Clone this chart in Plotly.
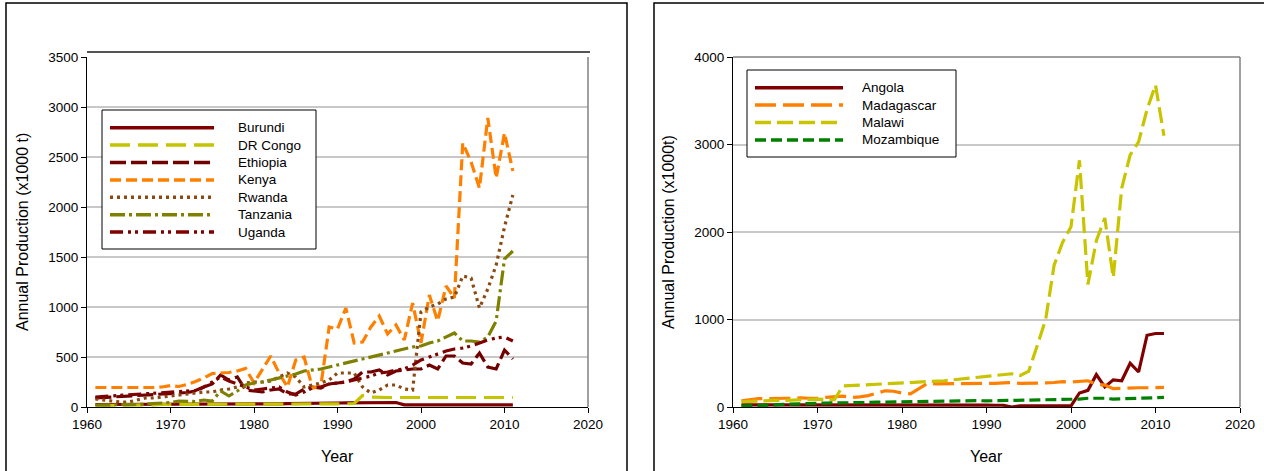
import plotly.graph_objects as go

years = list(range(1961, 2012))

# ---- East Africa (x1000 t) ----
burundi = [25, 25, 25, 25, 26, 27, 28, 28, 28, 28, 29, 29, 30, 30, 30, 30, 30, 30, 30, 30,
           31, 32, 32, 33, 33, 34, 35, 36, 38, 40, 42, 42, 45, 38, 40, 42, 45, 22, 22, 22,
           22, 22, 22, 22, 22, 22, 22, 24, 26, 24, 22]
dr_congo = [15, 15, 18, 18, 20, 20, 22, 22, 25, 25, 27, 27, 28, 28, 28, 28, 28, 27, 27, 27,
            27, 27, 28, 28, 28, 28, 29, 30, 30, 30, 32, 35, 115, 100, 95, 95, 95, 95, 95, 95,
            95, 95, 95, 95, 95, 95, 95, 95, 95, 95, 95]
ethiopia = [90, 95, 100, 110, 115, 120, 125, 130, 135, 140, 140, 145, 160, 200, 230, 320, 270, 300, 170, 160,
            150, 170, 180, 130, 130, 180, 200, 190, 230, 240, 250, 280, 350, 350, 370, 320, 360, 370, 380, 380,
            420, 380, 510, 510, 440, 430, 540, 400, 380, 570, 480]
kenya = [195, 195, 190, 190, 190, 195, 195, 195, 200, 215, 205, 225, 255, 290, 335, 340, 345, 360, 385, 240,
         380, 510, 340, 200, 470, 500, 190, 210, 800, 780, 990, 640, 650, 800, 910, 730, 820, 670, 1040, 640,
         1120, 860, 1210, 1090, 2640, 2450, 2190, 2890, 2290, 2740, 2360]
rwanda = [80, 70, 60, 50, 50, 70, 90, 90, 100, 110, 120, 130, 140, 150, 150, 170, 180, 200, 240, 250,
          250, 260, 300, 340, 300, 200, 220, 240, 270, 340, 340, 340, 200, 140, 170, 220, 220, 180, 170, 950,
          1000, 1030, 1080, 1100, 1310, 1290, 990, 1180, 1420, 1800, 2120]
tanzania = [20, 20, 20, 22, 22, 25, 30, 35, 40, 45, 60, 55, 55, 70, 60, 160, 110, 160, 220, 240,
            250, 270, 290, 310, 330, 360, 370, 380, 400, 420, 440, 460, 480, 500, 520, 540, 560, 580, 600, 610,
            640, 660, 700, 740, 660, 660, 650, 700, 860, 1480, 1560]
uganda = [100, 105, 110, 115, 120, 125, 130, 135, 140, 150, 150, 155, 165, 200, 250, 300, 260, 230, 200, 170,
          180, 190, 200, 150, 120, 150, 190, 200, 230, 240, 250, 270, 290, 310, 340, 350, 370, 380, 420, 470,
          500, 530, 560, 580, 590, 610, 640, 670, 690, 700, 660]

# ---- Southern Africa (x1000 t) ----
angola = [25, 25, 25, 25, 25, 25, 25, 25, 25, 25, 25, 25, 25, 25, 25, 25, 25, 25, 25, 25,
          25, 25, 25, 25, 25, 30, 28, 26, 25, 22, 20, 20, 0, 12, 12, 12, 12, 12, 12, 12,
          160, 190, 370, 230, 310, 300, 500, 400, 820, 840, 840]
madagascar = [70, 85, 95, 95, 100, 100, 100, 105, 100, 100, 110, 120, 125, 110, 115, 130, 160, 185, 180, 160,
              150, 210, 270, 265, 265, 265, 270, 270, 270, 270, 270, 275, 280, 270, 270, 275, 275, 280, 290, 285,
              290, 300, 260, 250, 210, 215, 215, 220, 220, 225, 225]
malawi = [60, 65, 70, 70, 75, 75, 80, 85, 90, 90, 85, 85, 240, 245, 250, 255, 260, 260, 265, 270,
          275, 285, 290, 295, 300, 310, 320, 330, 340, 345, 355, 365, 380, 360, 410, 700, 1000, 1620, 1880, 2060,
          2820, 1400, 1900, 2160, 1480, 2500, 2880, 3030, 3400, 3680, 3100]
mozambique = [10, 12, 15, 20, 25, 30, 35, 40, 40, 42, 45, 45, 47, 50, 50, 52, 55, 57, 60, 60,
              62, 62, 63, 65, 67, 70, 72, 75, 72, 70, 72, 72, 74, 75, 75, 77, 78, 80, 80, 82,
              90, 100, 100, 100, 90, 92, 98, 100, 105, 108, 110]

east_series = [
    ("Burundi", burundi, "#800000", "solid"),
    ("DR Congo", dr_congo, "#C4C400", "20px,8px"),
    ("Ethiopia", ethiopia, "#700000", "16px,5px"),
    ("Kenya", kenya, "#FF8000", "11px,5px"),
    ("Rwanda", rwanda, "#8B4A12", "3px,4px"),
    ("Tanzania", tanzania, "#808000", "15px,4px,3px,4px"),
    ("Uganda", uganda, "#800000", "13px,5px,3px,4px,3px,5px"),
]
south_series = [
    ("Angola", angola, "#800000", "solid"),
    ("Madagascar", madagascar, "#FF8000", "21px,7px"),
    ("Malawi", malawi, "#C8C400", "16px,6px"),
    ("Mozambique", mozambique, "#008000", "11px,5px"),
]

FONT = "Liberation Sans, Arial, sans-serif"
W, H = 1264, 471
LINE_W = 3.2


def px_x(v):
    return v / W


def px_y(v):
    return 1 - v / H


fig = go.Figure()
for name, vals, color, dash in east_series:
    fig.add_trace(go.Scatter(x=years, y=vals, name=name, mode="lines",
                             line=dict(color=color, width=LINE_W, dash=dash),
                             xaxis="x", yaxis="y", showlegend=False))
for name, vals, color, dash in south_series:
    fig.add_trace(go.Scatter(x=years, y=vals, name=name, mode="lines",
                             line=dict(color=color, width=LINE_W, dash=dash),
                             xaxis="x2", yaxis="y2", showlegend=False))

axis_common = dict(
    showline=True, linecolor="black", linewidth=1,
    ticks="outside", ticklen=5, tickcolor="black", tickwidth=1,
    tickfont=dict(family=FONT, size=13.5, color="black"),
    zeroline=False, automargin=False,
)
xcommon = dict(axis_common, range=[1960, 2020], dtick=10, showgrid=False)
ycommon = dict(axis_common, showgrid=True, gridcolor="#C8C8C8", gridwidth=1.5)

fig.update_layout(
    width=W, height=H,
    margin=dict(l=0, r=0, t=0, b=0, autoexpand=False),
    paper_bgcolor="white", plot_bgcolor="white",
    showlegend=False,
    xaxis=dict(xcommon, domain=[px_x(87), px_x(588)], anchor="y"),
    yaxis=dict(ycommon, domain=[px_y(407), px_y(57)], anchor="x", range=[0, 3500], dtick=500),
    xaxis2=dict(xcommon, domain=[px_x(733), px_x(1240)], anchor="y2"),
    yaxis2=dict(ycommon, domain=[px_y(407), px_y(57)], anchor="x2", range=[0, 4000], dtick=1000),
)

shapes = [
    # panel frames
    dict(type="rect", xref="paper", yref="paper", x0=px_x(6), x1=px_x(627), y0=-0.02, y1=px_y(3),
         line=dict(color="black", width=1.5), fillcolor="rgba(0,0,0,0)", layer="above"),
    dict(type="rect", xref="paper", yref="paper", x0=px_x(654), x1=1.02, y0=-0.02, y1=px_y(3),
         line=dict(color="black", width=1.5), fillcolor="rgba(0,0,0,0)", layer="above"),
    # right / top edges of the plot areas
    dict(type="line", xref="x domain", yref="y domain", x0=1, x1=1, y0=0, y1=1,
         line=dict(color="#808080", width=1.5)),
    dict(type="line", xref="x2 domain", yref="y2 domain", x0=1, x1=1, y0=0, y1=1,
         line=dict(color="#808080", width=1.5)),
    dict(type="line", xref="x2 domain", yref="y2 domain", x0=0, x1=1, y0=1, y1=1,
         line=dict(color="#808080", width=1.5)),
    # heavy rule above the left chart
    dict(type="line", xref="x domain", yref="paper", x0=0, x1=1.004, y0=px_y(52), y1=px_y(52),
         line=dict(color="#555555", width=2)),
]

annotations = [
    dict(text="Year", xref="x domain", yref="paper", x=0.5, y=px_y(456), showarrow=False,
         font=dict(family=FONT, size=16, color="black"), xanchor="center", yanchor="middle"),
    dict(text="Year", xref="x2 domain", yref="paper", x=0.5, y=px_y(456), showarrow=False,
         font=dict(family=FONT, size=16, color="black"), xanchor="center", yanchor="middle"),
    dict(text="Annual Production (x1000 t)", xref="paper", yref="y domain", x=px_x(22), y=0.5,
         textangle=-90, showarrow=False, font=dict(family=FONT, size=16, color="black"),
         xanchor="center", yanchor="middle"),
    dict(text="Annual Production (x1000t)", xref="paper", yref="y2 domain", x=px_x(668), y=0.5,
         textangle=-90, showarrow=False, font=dict(family=FONT, size=16, color="black"),
         xanchor="center", yanchor="middle"),
]


def add_key(series, box, line_x, text_x, row0, row_step):
    """Legend: framed box with a line sample and a label per series."""
    bx0, by0, bx1, by1 = box
    shapes.append(dict(type="rect", xref="paper", yref="paper",
                       x0=px_x(bx0), x1=px_x(bx1), y0=px_y(by1), y1=px_y(by0),
                       line=dict(color="black", width=1), fillcolor="white"))
    for i, (name, _, color, dash) in enumerate(series):
        yy = px_y(row0 + i * row_step)
        shapes.append(dict(type="line", xref="paper", yref="paper",
                           x0=px_x(line_x[0]), x1=px_x(line_x[1]), y0=yy, y1=yy,
                           line=dict(color=color, width=LINE_W + 0.3, dash=dash)))
        annotations.append(dict(text=name, xref="paper", yref="paper", x=px_x(text_x), y=yy,
                                xanchor="left", yanchor="middle", showarrow=False,
                                font=dict(family=FONT, size=13.5, color="black")))


add_key(east_series, (102, 110, 316, 249), (110, 214), 236, 127.7, 17.4)
add_key(south_series, (747, 70, 956, 157), (755, 843), 860, 87.7, 17.4)

fig.update_layout(shapes=shapes, annotations=annotations)

fig.write_html("out.html")
